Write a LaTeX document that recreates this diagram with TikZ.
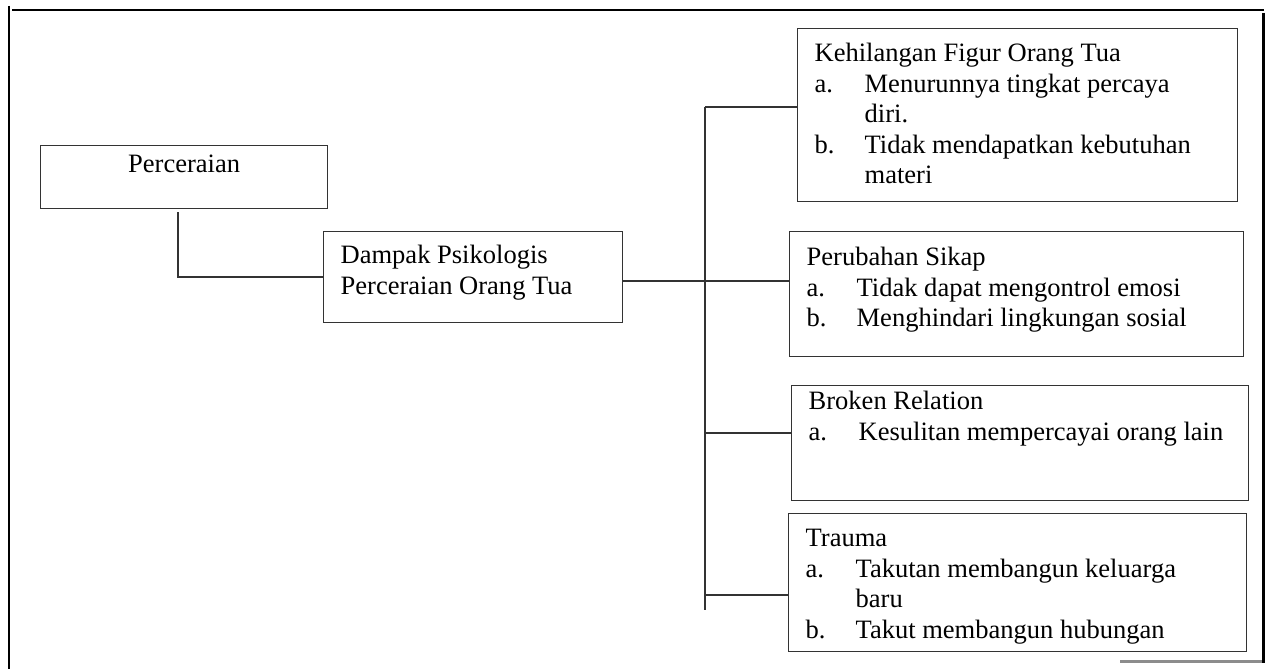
\documentclass[tikz,border=0pt]{standalone}
\usepackage{fontspec}
\setmainfont{Liberation Serif}
\usetikzlibrary{positioning, calc}
\definecolor{boxline}{RGB}{51, 51, 51}

% list item with hanging indent
\newcommand{\itm}[2]{\par\hangindent=1cm\hangafter=1\noindent\makebox[1cm][l]{#1}#2}
% box content: width, height, gap above first line, text
\newcommand{\boxtext}[4]{%
    \begin{minipage}[t][#2][t]{#1}\fontsize{15.1}{17.4}\selectfont
    \leftskip=0.34cm\rightskip=0pt plus 1fil
    \vspace*{#3}\strut #4\end{minipage}}

\begin{document}
\begin{tikzpicture}[x=0.02cm, y=-0.02cm,
    catbox/.style={draw=boxline, line width=0.75pt, inner sep=0pt, anchor=north west},
    link/.style={draw=boxline, line width=0.75pt},
    frameline/.style={line width=1.7pt}]
    \useasboundingbox (0, 0) rectangle (1267, 669);

    % outer frame
    \draw[frameline] (9, 6) -- (9, 669);
    \draw[frameline] (12, 10) -- (1264, 10);
    \draw[frameline] (1263, 13) -- (1263, 663);
    \draw[frameline, black!45] (1120, 661) -- (1262, 661);

    \node[catbox] (per) at (40, 145)
        {\boxtext{5.74cm}{1.26cm}{0.11cm}{\centering Perceraian}};
    \node[catbox] (dampak) at (323, 231)
        {\boxtext{5.98cm}{1.82cm}{0.21cm}{Dampak Psikologis\\Perceraian Orang Tua}};

    \node[catbox] (figur) at (797, 28)
        {\boxtext{8.8cm}{3.46cm}{0.23cm}{Kehilangan Figur Orang Tua
        \itm{a.}{Menurunnya tingkat percaya\\diri.}
        \itm{b.}{Tidak mendapatkan kebutuhan\\materi}}};
    \node[catbox] (sikap) at (789, 231)
        {\boxtext{9.08cm}{2.5cm}{0.25cm}{Perubahan Sikap
        \itm{a.}{Tidak dapat mengontrol emosi}
        \itm{b.}{Menghindari lingkungan sosial}}};
    \node[catbox] (relasi) at (791, 385)
        {\boxtext{9.14cm}{2.3cm}{0.05cm}{Broken Relation
        \itm{a.}{Kesulitan mempercayai orang lain}}};
    \node[catbox] (trauma) at (788, 513)
        {\boxtext{9.16cm}{2.76cm}{0.23cm}{Trauma
        \itm{a.}{Takutan membangun keluarga\\baru}
        \itm{b.}{Takut membangun hubungan}}};

    % spine and branches
    \coordinate (j1) at (705, 107);
    \coordinate (j2) at (705, 281);
    \coordinate (j3) at (705, 433);
    \coordinate (j4) at (705, 595);
    \coordinate (jend) at (705, 610);

    \draw[link] ([xshift=2.76cm, yshift=-0.06cm]per.south west) |- (dampak.west);
    \draw[link] (j1) -- (jend);
    \draw[link] (j1) -- (j1 -| figur.west);
    \draw[link] (dampak.east |- j2) -- (j2 -| sikap.west);
    \draw[link] (j3) -- (j3 -| relasi.west);
    \draw[link] (j4) -- (j4 -| trauma.west);
\end{tikzpicture}
\end{document}
